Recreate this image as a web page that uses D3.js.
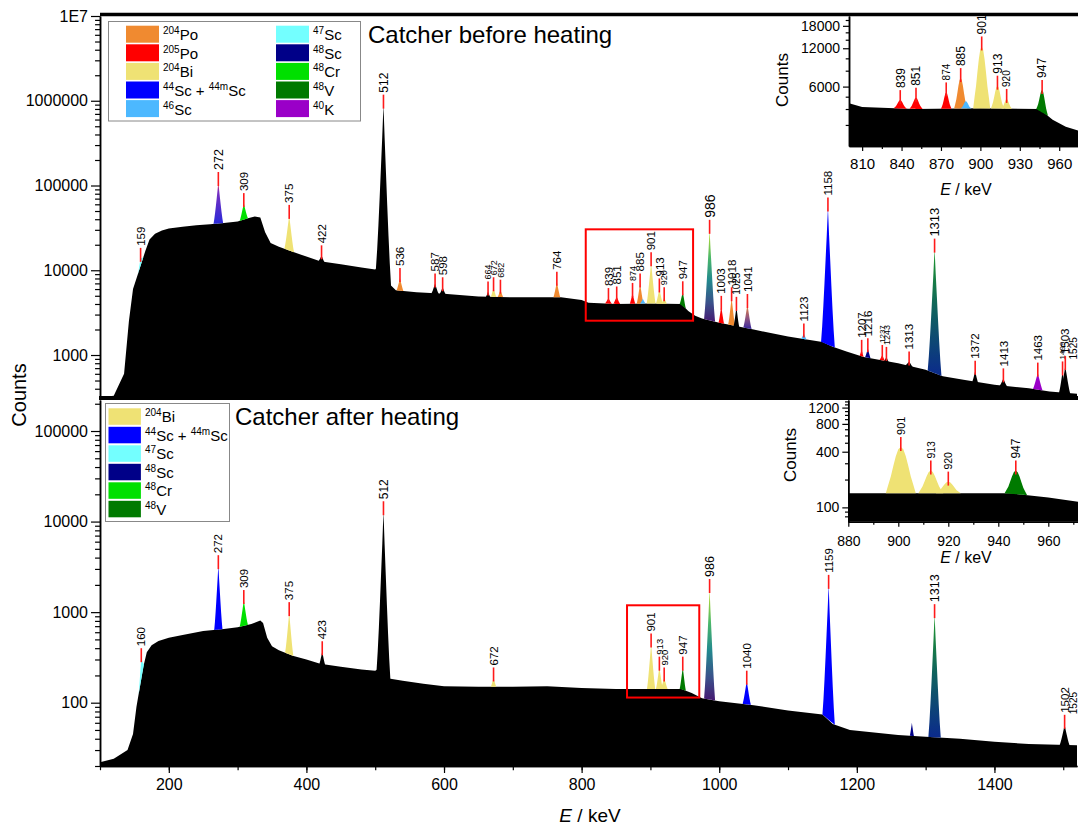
<!DOCTYPE html>
<html>
<head>
<meta charset="utf-8">
<script src="https://cdn.jsdelivr.net/npm/d3@7"></script>
<style>
  body { margin: 0; background: #fff; }
  svg { display: block; }
</style>
</head>
<body>
<svg id="chart" width="1078" height="827"></svg>
<script>
// ---------- continuum of the "before heating" spectrum (keV, counts) ----------
const beforeContE = [100, 120, 135, 142, 148, 155, 160, 166, 172, 180, 190, 200, 220, 240, 260, 280, 300, 315, 325, 333, 340, 348, 360, 380, 400, 420, 450, 480, 500, 506, 520, 530, 560, 600, 650, 700, 770, 800, 810, 850, 900, 945, 955, 965, 975, 1000, 1050, 1100, 1150, 1165, 1185, 1210, 1260, 1300, 1325, 1355, 1400, 1450, 1480, 1520];
const beforeContC = [315, 330, 600, 2500, 6000, 9000, 12000, 17000, 23000, 27000, 29500, 31000, 32500, 34000, 35000, 36000, 37500, 41000, 43000, 42000, 28000, 21000, 19000, 16500, 14500, 12800, 11800, 10800, 10200, 11500, 7000, 5800, 5500, 5300, 4900, 4800, 4800, 4450, 4150, 4000, 4050, 4000, 3300, 2900, 2700, 2400, 2000, 1650, 1420, 1250, 1100, 950, 800, 670, 560, 510, 445, 405, 370, 350];

// ---------- continuum of the "after heating" spectrum ----------
const afterContE = [100, 120, 140, 148, 153, 158, 163, 168, 175, 185, 200, 220, 250, 280, 300, 320, 333, 337, 343, 350, 360, 380, 400, 420, 450, 480, 500, 506, 520, 540, 570, 600, 650, 700, 750, 800, 850, 900, 945, 960, 975, 1000, 1050, 1100, 1150, 1165, 1190, 1260, 1300, 1350, 1400, 1450, 1520];
const afterContC = [22, 24, 30, 45, 90, 150, 250, 360, 430, 480, 520, 560, 620, 650, 680, 740, 810, 760, 520, 420, 380, 330, 300, 270, 250, 232, 225, 240, 185, 175, 162, 152, 150, 150, 152, 145, 142, 142, 142, 128, 112, 104, 94, 82, 74, 58, 50, 44, 42, 40, 37, 35, 34];

// ---------- identified peaks, before heating ----------
const beforePeakE = [159, 272, 309, 375, 422, 512, 536, 587, 598, 664, 672, 682, 764, 839, 851, 874, 885, 889, 901, 913, 920, 947, 986, 1003, 1018, 1025, 1041, 1123, 1158, 1207, 1216, 1237, 1243, 1276, 1313, 1372, 1413, 1463, 1499, 1503, 1525];
const beforePeakC = [14000, 110000, 62000, 45000, 15000, 900000, 8100, 7000, 6300, 5600, 6300, 5900, 7300, 4700, 4900, 5400, 7000, 4600, 12400, 6100, 4800, 5650, 30000, 3800, 4800, 3700, 4000, 1800, 55000, 1150, 1200, 1000, 950, 840, 18000, 650, 530, 620, 640, 740, 640];
const beforePeakHW = [4, 7, 6, 7, 4, 11, 5, 5, 4, 3, 4, 4, 5, 5, 5, 4, 5, 4, 6.5, 5, 4, 4.5, 8, 4, 5, 4, 6, 4, 10, 3, 4, 4, 3, 5, 10, 4, 5, 7, 5, 7, 5];
const beforePeakNuc = ['Sc47', 'mix272', 'Cr48', 'Bi204', 'none', 'none', 'Po204', 'none', 'none', 'none', 'Bi204', 'Po204', 'Po204', 'Po205', 'Po205', 'Po205', 'Po204', 'Sc46', 'Bi204', 'Bi204', 'Bi204', 'V48', 'mix986', 'Po205', 'Po204', 'none', 'mix1041', 'Sc46', 'Sc44', 'Po205', 'Sc48', 'Po205', 'none', 'none', 'mix1313', 'none', 'none', 'K40', 'none', 'none', 'none'];
const beforePeakLabel = ['159', '272', '309', '375', '422', '512', '536', '587', '598', '664', '672', '682', '764', '839', '851', '874', '885', '', '901', '913', '920', '947', '986', '1003', '1018', '1025', '1041', '1123', '1158', '1207', '1216', '1237', '1243', '1313', '1313', '1372', '1413', '1463', '1499', '1503', '1525'];

// ---------- identified peaks, after heating ----------
const afterPeakE = [160, 272, 309, 375, 423, 512, 672, 901, 913, 920, 947, 986, 1040, 1159, 1280, 1313, 1502, 1525];
const afterPeakC = [310, 3300, 1360, 1000, 370, 13000, 190, 450, 250, 190, 250, 1800, 175, 2000, 60, 950, 57, 55];
const afterPeakHW = [4, 6, 6, 6, 4, 10, 4, 6, 5, 5, 4.5, 8, 6, 9, 3, 9, 7, 5];
const afterPeakNuc = ['Sc47', 'Sc44', 'Cr48', 'Bi204', 'none', 'none', 'Bi204', 'Bi204', 'Bi204', 'Bi204', 'V48', 'mix986', 'Sc44', 'Sc44', 'Sc48', 'mix1313', 'none', 'none'];
const afterPeakLabel = ['160', '272', '309', '375', '423', '512', '672', '901', '913', '920', '947', '986', '1040', '1159', '', '1313', '1502', '1525'];

// ---------- legends ----------
const legendBeforeCol1 = ['Po204', 'Po205', 'Bi204', 'Sc44', 'Sc46'];
const legendBeforeCol2 = ['Sc47', 'Sc48', 'Cr48', 'V48', 'K40'];
const legendAfter = ['Bi204', 'Sc44', 'Sc47', 'Sc48', 'Cr48', 'V48'];

// ---------- axis ticks ----------
const mainXTicks = [200, 400, 600, 800, 1000, 1200, 1400];
const topYTicks = [1000, 10000, 100000, 1000000, 10000000];
const topYTickText = ['1000', '10000', '100000', '1000000', '1E7'];
const botYTicks = [100, 1000, 10000, 100000];
const botYTickText = ['100', '1000', '10000', '100000'];
const insetTopXTicks = [810, 840, 870, 900, 930, 960];
const insetTopYTicks = [6000, 12000, 18000];
const insetBotXTicks = [880, 900, 920, 940, 960];
const insetBotYTicks = [100, 400, 800, 1200];

// zoomed regions marked on the main panels (keV range, counts range)
const boxBeforeE = [806, 962], boxBeforeC = [2540, 30400];
const boxAfterE = [866, 971], boxAfterC = [114, 1190];

// ======================================================================
const FONT = '"Liberation Sans", Arial, Helvetica, sans-serif';
const W = 1078;
const svg = d3.select('#chart').attr('font-family', FONT);
const defs = svg.append('defs');

const nucColor = {
  Po204: '#f08a30', Po205: '#ff0000', Bi204: '#efe274', Sc44: '#0000ff', Sc46: '#4cb8ff',
  Sc47: '#73ffff', Sc48: '#000088', Cr48: '#00e000', V48: '#007a00', K40: '#9a00c8'
};
const nucText = {
  Po204: [['204', 1], ['Po', 0]], Po205: [['205', 1], ['Po', 0]], Bi204: [['204', 1], ['Bi', 0]],
  Sc44: [['44', 1], ['Sc + ', 0], ['44m', 1], ['Sc', 0]], Sc46: [['46', 1], ['Sc', 0]],
  Sc47: [['47', 1], ['Sc', 0]], Sc48: [['48', 1], ['Sc', 0]], Cr48: [['48', 1], ['Cr', 0]],
  V48: [['48', 1], ['V', 0]], K40: [['40', 1], ['K', 0]]
};
// overlapping lines fitted together are shaded with a vertical blend
const gradStops = {
  mix272: [[0, '#ff1a1a'], [0.22, '#7a2fc0'], [1, '#2a2ad8']],
  mix986: [[0, '#c9df2a'], [0.3, '#4cb86a'], [0.55, '#23898e'], [0.8, '#3b4f8a'], [1, '#461a72']],
  mix1313: [[0, '#1f9a2a'], [0.5, '#0f6060'], [1, '#0b2a8c']],
  mix1041: [[0, '#f0882e'], [0.5, '#9a5a7a'], [1, '#3a2aa0']]
};
Object.entries(gradStops).forEach(([k, stops]) => {
  const lg = defs.append('linearGradient').attr('id', 'g-' + k)
    .attr('x1', 0).attr('y1', 0).attr('x2', 0).attr('y2', 1);
  stops.forEach(s => lg.append('stop').attr('offset', s[0]).attr('stop-color', s[1]));
});
const fillOf = k => k === 'none' ? '#000' : (gradStops[k] ? `url(#g-${k})` : nucColor[k]);

function zipPeaks(E, C, HW, N, L) {
  return E.map((e, i) => ({ e, c: C[i], hw: HW[i], nuc: N[i], label: L[i] }));
}
const beforeCont = { e: beforeContE, c: beforeContC };
const afterCont = { e: afterContE, c: afterContC };
const beforePeaks = zipPeaks(beforePeakE, beforePeakC, beforePeakHW, beforePeakNuc, beforePeakLabel);
const afterPeaks = zipPeaks(afterPeakE, afterPeakC, afterPeakHW, afterPeakNuc, afterPeakLabel);

// ---------- scales ----------
const xMain = d3.scaleLinear().domain([100, 1520]).range([100, 1077]);
const yTop = d3.scaleLog().domain([311, 1e7]).range([398, 16]);
const yBot = d3.scaleLog().domain([20, 220000]).range([766, 400]);
const xInsTop = d3.scaleLinear().domain([800, 974]).range([849, 1077.6]);
const yInsTop = d3.scaleLog().domain([2050, 21500]).range([146, 16]);
const xInsBot = d3.scaleLinear().domain([880, 972]).range([848.3, 1078.3]);
const yInsBot = d3.scaleLog().domain([70, 1450]).range([521.7, 400]);

// peak outlines across the peak width:
//  full spectra -> fraction of the log-height above the baseline (near-triangular spikes)
//  zoomed insets -> fraction of the linear height above the baseline (bell shape)
const PROFILE_SPIKE = [0, 0.12, 0.27, 0.44, 0.62, 0.80, 1, 0.80, 0.62, 0.44, 0.27, 0.12, 0];
const PROFILE_BELL = [0, 0.11, 0.24, 0.45, 0.70, 0.92, 1, 0.92, 0.70, 0.45, 0.24, 0.11, 0];

function contAt(cont, e) {
  const es = cont.e, cs = cont.c;
  if (e <= es[0]) return cs[0];
  if (e >= es[es.length - 1]) return cs[cs.length - 1];
  const i = d3.bisectRight(es, e) - 1;
  const t = (e - es[i]) / (es[i + 1] - es[i]);
  return Math.exp(Math.log(cs[i]) * (1 - t) + Math.log(cs[i + 1]) * t);
}
function peakPoints(p, cont, inset) {
  const profile = inset ? PROFILE_BELL : PROFILE_SPIKE;
  const b0 = contAt(cont, p.e - p.hw), b1 = contAt(cont, p.e + p.hw);
  const bc = Math.sqrt(b0 * b1);
  const ratio = Math.max(1, p.c / bc);
  const n = profile.length;
  return profile.map((f, i) => {
    const t = i / (n - 1);
    const base = Math.exp(Math.log(b0) * (1 - t) + Math.log(b1) * t);
    const top = inset ? base + (p.c - bc) * f : base * Math.pow(ratio, f);
    return { e: p.e - p.hw + 2 * p.hw * t, base, top: Math.max(base, top) };
  });
}
function addClip(id, x0, y0, x1, y1) {
  defs.append('clipPath').attr('id', id).append('rect')
    .attr('x', x0).attr('y', y0).attr('width', x1 - x0).attr('height', y1 - y0);
}

function drawSpectrum(xs, ys, cont, peaks, clipId, sizes, defSize, inset) {
  const g = svg.append('g');
  const body = g.append('g').attr('clip-path', `url(#${clipId})`);
  const yb = ys.range()[0];
  const pts = cont.e.map((e, i) => [e, cont.c[i]]);
  body.append('path').datum(pts)
    .attr('d', d3.area().x(d => xs(d[0])).y0(yb).y1(d => ys(d[1])))
    .attr('fill', '#000');
  const [d0, d1] = xs.domain();
  const vis = peaks.filter(p => p.e + p.hw >= d0 && p.e - p.hw <= d1);
  vis.forEach(p => {
    const pp = peakPoints(p, cont, inset);
    const top = pp.map(q => [xs(q.e), ys(q.top)]);
    const bottom = p.nuc === 'none'
      ? [[xs(pp[pp.length - 1].e), yb], [xs(pp[0].e), yb]]
      : pp.slice().reverse().map(q => [xs(q.e), ys(q.base)]);
    body.append('path').attr('d', d3.line()(top.concat(bottom)) + 'Z').attr('fill', fillOf(p.nuc));
  });
  const ann = g.append('g');
  vis.filter(p => p.label && (!inset || (p.e >= d0 && p.e <= d1))).forEach(p => {
    const x = xs(p.e), y = ys(p.c);
    const fs = sizes[p.e] || defSize;
    ann.append('line').attr('x1', x).attr('x2', x).attr('y1', y + 4).attr('y2', y - 10)
      .attr('stroke', '#ff1a1a').attr('stroke-width', 1.6);
    // keep the rotated label inside the drawing at the right edge
    const tx = Math.min(x + fs * 0.36, W - 1.5);
    ann.append('text').attr('transform', `translate(${tx},${y - 12}) rotate(-90)`)
      .attr('font-size', fs).attr('fill', '#000').text(p.label);
  });
}

// ---------- main panels ----------
addClip('clipTop', 100, 16, 1077, 398);
addClip('clipBot', 100, 400, 1077, 766);
drawSpectrum(xMain, yTop, beforeCont, beforePeaks, 'clipTop',
  { 986: 14, 1313: 13, 272: 12.5, 512: 12, 874: 9, 920: 9, 664: 9, 672: 9, 682: 9, 1025: 10, 1237: 8, 1243: 9, 1499: 8, 1525: 10 }, 11.5, false);
drawSpectrum(xMain, yBot, afterCont, afterPeaks, 'clipBot',
  { 913: 9.5, 920: 9.5, 512: 12, 986: 12.5, 1313: 12.5, 1525: 10 }, 11.5, false);

// red frames around the zoomed regions
function redBox(xs, ys, E, C) {
  svg.append('rect').attr('x', xs(E[0])).attr('y', ys(C[1]))
    .attr('width', xs(E[1]) - xs(E[0])).attr('height', ys(C[0]) - ys(C[1]))
    .attr('fill', 'none').attr('stroke', '#ff0000').attr('stroke-width', 2);
}
redBox(xMain, yTop, boxBeforeE, boxBeforeC);
redBox(xMain, yBot, boxAfterE, boxAfterC);

// ---------- insets ----------
svg.append('rect').attr('x', 849).attr('y', 16).attr('width', 229).attr('height', 130).attr('fill', '#fff');
svg.append('rect').attr('x', 848.3).attr('y', 400).attr('width', 230).attr('height', 121.7).attr('fill', '#fff');
addClip('clipInsTop', 849, 16, 1078, 146);
addClip('clipInsBot', 848.3, 400, 1078, 521.7);
drawSpectrum(xInsTop, yInsTop, beforeCont, beforePeaks, 'clipInsTop', { 874: 10, 920: 10 }, 12, true);
drawSpectrum(xInsBot, yInsBot, afterCont, afterPeaks, 'clipInsBot', { 947: 12, 913: 10.5, 920: 10.5 }, 11, true);

// ---------- axes ----------
function styleAxis(sel, fs) {
  sel.attr('font-family', FONT).attr('font-size', fs);
  sel.selectAll('text').attr('fill', '#000');
  sel.selectAll('line').attr('stroke', '#000').attr('stroke-width', 1.2);
  sel.selectAll('path.domain').attr('stroke', '#000').attr('stroke-width', 1.5);
}
function logMinors(scale) {
  const [a, b] = scale.domain();
  const out = [];
  for (let k = Math.floor(Math.log10(a)); k <= Math.ceil(Math.log10(b)); k++) {
    for (let m = 2; m <= 9; m++) {
      const v = m * Math.pow(10, k);
      if (v >= a && v <= b) out.push(v);
    }
  }
  return out;
}
function leftLogAxis(ys, x, major, text, minor, fs, size) {
  const gm = svg.append('g').attr('transform', `translate(${x},0)`)
    .call(d3.axisLeft(ys).tickValues(minor).tickFormat('').tickSize(size * 0.55).tickSizeOuter(0));
  styleAxis(gm, fs);
  const g = svg.append('g').attr('transform', `translate(${x},0)`)
    .call(d3.axisLeft(ys).tickValues(major).tickFormat((d, i) => text[i]).tickSize(size).tickPadding(3).tickSizeOuter(0));
  styleAxis(g, fs);
}
function bottomAxis(xs, y, major, minor, fs, size, pad) {
  const gm = svg.append('g').attr('transform', `translate(0,${y})`)
    .call(d3.axisBottom(xs).tickValues(minor).tickFormat('').tickSize(size * 0.6).tickSizeOuter(0));
  styleAxis(gm, fs);
  const g = svg.append('g').attr('transform', `translate(0,${y})`)
    .call(d3.axisBottom(xs).tickValues(major).tickFormat(d3.format('d')).tickSize(size).tickPadding(pad).tickSizeOuter(0));
  styleAxis(g, fs);
}

leftLogAxis(yTop, 100, topYTicks, topYTickText, logMinors(yTop), 16, 9);
leftLogAxis(yBot, 100, botYTicks, botYTickText, logMinors(yBot), 16, 9);
bottomAxis(xMain, 766, mainXTicks, d3.range(100, 1600, 100), 16, 7, 6);

leftLogAxis(yInsTop, 849, insetTopYTicks, insetTopYTicks.map(String),
  [3000, 4000, 5000, 8000, 10000, 14000, 16000, 20000], 14, 6);
bottomAxis(xInsTop, 146, insetTopXTicks, d3.range(825, 975, 30), 15, 5, 7);
leftLogAxis(yInsBot, 848.3, insetBotYTicks, insetBotYTicks.map(String),
  [80, 90, 200, 300, 500, 600, 700, 900, 1000, 1100, 1300, 1400], 14, 6);
bottomAxis(xInsBot, 521.7, insetBotXTicks, d3.range(890, 980, 20), 14, 5, 9);

// panel frames
svg.append('line').attr('x1', 100).attr('x2', 1078).attr('y1', 14.5).attr('y2', 14.5)
  .attr('stroke', '#000').attr('stroke-width', 3.5);
svg.append('rect').attr('x', 99).attr('y', 396).attr('width', 979).attr('height', 4).attr('fill', '#000');

// ---------- axis titles ----------
function eTitle(x, y, fs) {
  const t = svg.append('text').attr('x', x).attr('y', y).attr('text-anchor', 'middle')
    .attr('font-size', fs).attr('fill', '#000');
  t.append('tspan').attr('font-style', 'italic').text('E');
  t.append('tspan').text(' / keV');
}
function countsTitle(x, y, fs) {
  svg.append('text').attr('transform', `translate(${x},${y}) rotate(-90)`)
    .attr('text-anchor', 'middle').attr('font-size', fs).attr('fill', '#000').text('Counts');
}
eTitle(590, 822, 19);
countsTitle(26, 395, 20);
eTitle(966, 195, 16);
countsTitle(788, 80, 17);
eTitle(966, 563, 16);
countsTitle(796, 455, 17);

// ---------- panel titles ----------
svg.append('text').attr('x', 368).attr('y', 43).attr('font-size', 24).attr('fill', '#000').text('Catcher before heating');
svg.append('text').attr('x', 235).attr('y', 425).attr('font-size', 24).attr('fill', '#000').text('Catcher after heating');

// ---------- legends ----------
function nucLabel(g, x, y, key) {
  const t = g.append('text').attr('x', x).attr('y', y).attr('font-size', 15).attr('fill', '#000');
  let shift = 0;
  nucText[key].forEach(([s, sup]) => {
    const want = sup ? -6 : 0;
    t.append('tspan').attr('dy', want - shift).attr('font-size', sup ? 10 : 15).text(s);
    shift = want;
  });
}
function legendColumn(g, keys, swX, textX, y0, pitch, swW, swH) {
  keys.forEach((k, i) => {
    const y = y0 + i * pitch;
    g.append('rect').attr('x', swX).attr('y', y).attr('width', swW).attr('height', swH).attr('fill', nucColor[k]);
    nucLabel(g, textX, y + swH - 2.5, k);
  });
}
const lgTop = svg.append('g');
lgTop.append('rect').attr('x', 108.5).attr('y', 21.5).attr('width', 252).attr('height', 99.5)
  .attr('fill', '#fff').attr('stroke', '#888').attr('stroke-width', 1);
legendColumn(lgTop, legendBeforeCol1, 126, 163, 25.7, 18.6, 33, 17);
legendColumn(lgTop, legendBeforeCol2, 276, 313, 25.7, 18.6, 33, 17);

const lgBot = svg.append('g');
lgBot.append('rect').attr('x', 105.5).attr('y', 403.5).attr('width', 124).attr('height', 118)
  .attr('fill', '#fff').attr('stroke', '#888').attr('stroke-width', 1);
legendColumn(lgBot, legendAfter, 108.5, 145, 408.3, 18.5, 32.4, 16.5);
</script>
</body>
</html>
